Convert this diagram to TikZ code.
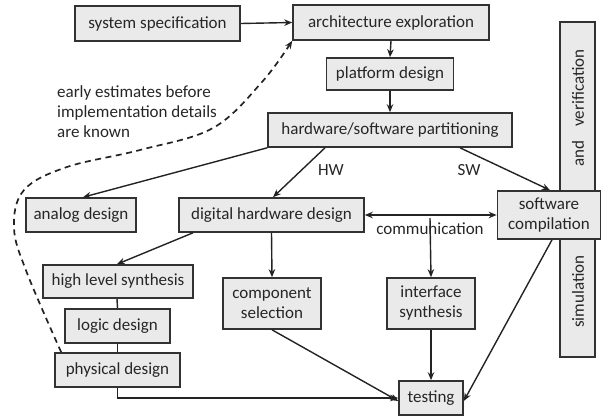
\documentclass[tikz,border=0pt]{standalone}
\usepackage{fontspec}
\setmainfont{Carlito}
\usetikzlibrary{arrows.meta,positioning}
\definecolor{boxfill}{RGB}{234,234,234}
\definecolor{boxline}{RGB}{50,50,50}
\definecolor{wire}{RGB}{35,35,35}
\begin{document}
\begin{tikzpicture}[x=1pt,y=-1pt,
  every node/.style={font=\fontsize{17}{20}\selectfont, text=black!85},
  blk/.style={draw=boxline, line width=1.6pt, fill=boxfill, inner sep=0pt,
    align=center, anchor=center},
  lbl/.style={inner sep=0pt, anchor=center},
  flow/.style={draw=wire, line width=1.4pt, -{Stealth[length=8pt,width=6.5pt]}},
  link/.style={draw=wire, line width=1.4pt}]
\useasboundingbox (0,0) rectangle (602,417);

% vertical simulation/verification bar (drawn first, the compilation box overlaps it)
\node[blk, minimum width=35pt, minimum height=335pt] (bar) at (577.5,189.5) {};
\node[lbl, rotate=90] (vverif) at (578,88) {verification};
\node[lbl, rotate=90] (vand) at (578,153.5) {and};
\node[lbl, rotate=90] (vsim) at (578,291.5) {simulation};

% design-flow blocks
\node[blk, minimum width=165pt, minimum height=35pt] (sys) at (157.5,23.5) {system specification};
\node[blk, minimum width=196pt, minimum height=35pt] (arch) at (391,22.5) {architecture exploration};
\node[blk, minimum width=127pt, minimum height=32pt] (plat) at (390,74) {platform design};
\node[blk, minimum width=244pt, minimum height=34pt] (hwsw) at (390,130) {hardware/software partitioning};
\node[blk, minimum width=110pt, minimum height=34pt] (analog) at (81,215) {analog design};
\node[blk, minimum width=185pt, minimum height=34pt] (digital) at (271.5,215) {digital hardware design};
\node[blk, minimum width=103pt, minimum height=48pt] (swc) at (549,215) {software\\compilation};
\node[blk, minimum width=150pt, minimum height=33pt] (hls) at (118,281.5) {high level synthesis};
\node[blk, minimum width=105pt, minimum height=34pt] (logic) at (117.5,326) {logic design};
\node[blk, minimum width=125pt, minimum height=34pt] (phys) at (117.5,370) {physical design};
\node[blk, minimum width=98pt, minimum height=51pt] (comp) at (272,303.5) {component\\selection};
\node[blk, minimum width=88pt, minimum height=51pt] (iface) at (431,303.5) {interface\\synthesis};
\node[blk, minimum width=64pt, minimum height=34pt] (test) at (431,398) {testing};

% text labels
\node[lbl, align=left, anchor=north west] (note) at (57,85) {early estimates before\\implementation details\\are known};
\node[lbl] (hw) at (331,170) {HW};
\node[lbl] (sw) at (469,170) {SW};
\node[lbl] (comm) at (430,229) {communication};

% connectors
\draw[flow] (sys.east) -- (arch.west);
\draw[flow] (arch.south) -- (plat.north);
\draw[flow] (plat.south) -- (hwsw.north);
\draw[flow] (hwsw.south west) -- ([xshift=2pt]analog.north);
\draw[flow] ([xshift=-65pt]hwsw.south) -- ([xshift=1.5pt]digital.north);
\draw[flow] ([xshift=70pt]hwsw.south) -- ([xshift=1pt]swc.north);
\draw[link, {Stealth[length=8pt,width=6.5pt]}-{Stealth[length=8pt,width=6.5pt]}] (digital.east) -- (swc.west);
\draw[flow] ([yshift=11pt]comm.center) -- (iface.north);
\draw[flow] ([xshift=-78.5pt]digital.south) -- ([xshift=-1pt]hls.north);
\draw[flow] (digital.south) -- (comp.north);
\draw[link] ([xshift=-1pt]hls.south) -- (logic.north);
\draw[link] (logic.south) -- (phys.north);
\draw[flow] (phys.south) |- (test.west);
\draw[flow] (comp.south) -- ([yshift=-3pt]test.west);
\draw[flow] (iface.south) -- (test.north);
\draw[flow] ([xshift=3pt]swc.south) -- ([yshift=-3pt]test.east);

% dashed feedback of early estimates
\draw[flow, line width=1.7pt, dash pattern=on 6pt off 4.5pt]
  plot[smooth, tension=0.6] coordinates {([xshift=7pt]phys.north west) (27,273) (14,228) (24,190) (67,167) (140,150) (213,128) (262,82) (arch.south west)};
\end{tikzpicture}
\end{document}
